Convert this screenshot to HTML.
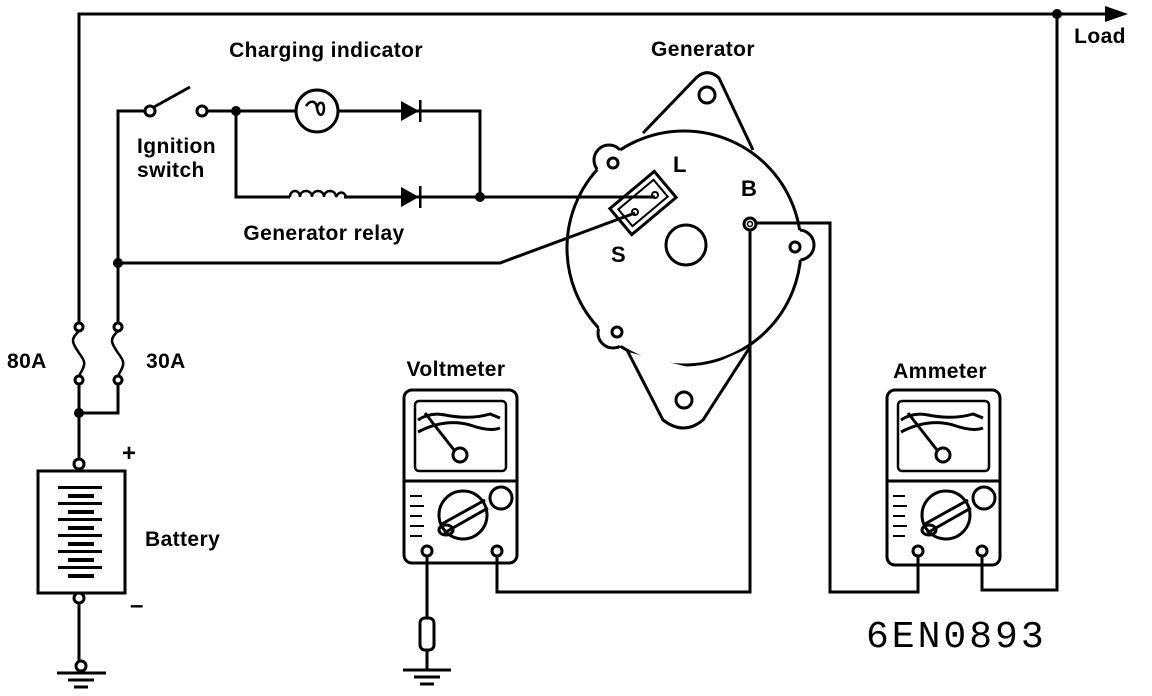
<!DOCTYPE html>
<html><head><meta charset="utf-8"><style>
html,body{margin:0;padding:0;background:#fff}
svg{display:block}
text{font-family:"Liberation Sans",Arial,sans-serif;font-weight:bold;fill:#000}
</style></head><body>
<svg width="1152" height="696" viewBox="0 0 1152 696" xmlns="http://www.w3.org/2000/svg">
<defs>
<mask id="mBody" maskUnits="userSpaceOnUse" x="0" y="0" width="1152" height="696">
<rect x="0" y="0" width="1152" height="696" fill="#fff"/>
<circle cx="609" cy="160" r="15" fill="#000"/>
<circle cx="613" cy="333" r="15" fill="#000"/>
<circle cx="799" cy="245" r="15" fill="#000"/>
<polygon points="628,352 684,430 749,348 700,370" fill="#000"/>
</mask>
<mask id="mEar" maskUnits="userSpaceOnUse" x="0" y="0" width="1152" height="696">
<rect x="0" y="0" width="1152" height="696" fill="#fff"/>
<circle cx="684" cy="248" r="117" fill="#000"/>
</mask>
</defs>
<g fill="none" stroke="#000" stroke-width="3">
<polyline points="79,327 79,14 1110,14"/>
<polyline points="118,327 118,111 145,111"/>
<circle cx="150" cy="111" r="5" fill="#fff"/>
<line x1="154" y1="107" x2="190" y2="87"/>
<circle cx="202" cy="111" r="5" fill="#fff"/>
<line x1="207" y1="111" x2="296" y2="111"/>
<circle cx="317" cy="111" r="21"/>
<path d="M306,106 c4,-6 10,-6 11,2 c1,9 7,9 7,0 c0,-7 -6,-7 -7,0" stroke-width="2.5"/>
<polyline points="338,111 480,111 480,197"/>
<polyline points="236,111 236,197 290,197"/>
<path d="M290,197 c0,-8 10,-8 10,0 c0,-8 12,-8 12,0 c0,-8 12,-8 12,0 c0,-8 12,-8 12,0 c3,-6 8,-6 10,0" stroke-width="2.5"/>
<line x1="344" y1="197" x2="655" y2="197"/>
<polyline points="118,263 500,263 635,213"/>
<circle cx="79" cy="327" r="4" fill="#fff"/><circle cx="79" cy="380" r="4" fill="#fff"/>
<path d="M79,331 c-8,8 -8,10 0,22 c8,10 6,12 0,23" stroke-width="2.5"/>
<circle cx="118" cy="327" r="4" fill="#fff"/><circle cx="118" cy="380" r="4" fill="#fff"/>
<path d="M118,331 c-8,8 -8,10 0,22 c8,10 6,12 0,23" stroke-width="2.5"/>
<polyline points="79,384 79,459"/>
<polyline points="118,384 118,413 79,413"/>
<circle cx="79" cy="464" r="5" fill="#fff"/>
<rect x="38" y="471" width="87" height="122"/>
<circle cx="79" cy="598" r="5" fill="#fff"/>
<line x1="79" y1="603" x2="79" y2="661"/>
<circle cx="81" cy="666" r="5" fill="#fff"/>
<line x1="57" y1="673" x2="106" y2="673"/>
<line x1="68" y1="680" x2="94" y2="680"/>
<line x1="74" y1="687" x2="88" y2="687"/>
<!-- generator -->
<circle cx="684" cy="248" r="117" mask="url(#mBody)"/>
<path d="M643,133 L697,77 Q708,68 719,78 L753,150"/>
<path d="M627,350 L663,420 Q684,436 703,420 L750,347"/>
<g mask="url(#mEar)">
<circle cx="609" cy="160" r="15"/>
<circle cx="613" cy="333" r="15"/>
<circle cx="799" cy="245" r="15"/>
</g>
<circle cx="613" cy="163" r="5"/>
<circle cx="617" cy="332" r="5"/>
<circle cx="795" cy="247" r="5"/>
<circle cx="707" cy="95" r="8"/>
<circle cx="684" cy="400" r="8"/>
<circle cx="686" cy="245" r="20"/>
<g transform="translate(643,203) rotate(-40)">
<rect x="-29" y="-17" width="58" height="34"/>
<rect x="-23" y="-11" width="46" height="22" stroke-width="2"/>
</g>
<circle cx="655" cy="195" r="3" stroke-width="2"/>
<circle cx="635" cy="212" r="3" stroke-width="2"/>
<circle cx="750" cy="224" r="6"/><circle cx="750" cy="224" r="2.5" stroke-width="1.5"/>
<polyline points="756,223 830,223 830,592 918,592 918,555"/>
<polyline points="750,230 750,592 497,592 497,555"/>
<polyline points="982,555 982,590 1057,590 1057,14"/>
<!-- voltmeter -->
<rect x="404" y="390" width="113" height="173" rx="8"/>
<rect x="415" y="401" width="91" height="70" rx="4" stroke-width="2.5"/>
<line x1="404" y1="481" x2="517" y2="481"/>
<path d="M418,420 Q430,412 445,415 Q470,420 490,414 L500,418"/><path d="M418,432 Q445,418 470,425 Q490,432 500,428"/>
<line x1="425" y1="413" x2="454" y2="450"/><circle cx="460" cy="455" r="7"/>
<circle cx="463" cy="515" r="24"/>
<line x1="440" y1="525" x2="485" y2="500"/><line x1="444" y1="533" x2="488" y2="508"/>
<ellipse cx="446" cy="530" rx="7" ry="5"/>
<circle cx="501" cy="498" r="11"/>
<path d="M410,496 h12 M410,506 h14 M410,516 h12 M410,526 h14 M410,536 h12" stroke-width="2"/>
<circle cx="427" cy="551" r="5"/><circle cx="497" cy="551" r="5"/>
<line x1="427" y1="556" x2="427" y2="618"/>
<rect x="420" y="618" width="14" height="32" rx="5"/>
<line x1="427" y1="650" x2="427" y2="670"/>
<line x1="403" y1="670" x2="451" y2="670"/>
<line x1="414" y1="677" x2="440" y2="677"/>
<line x1="420" y1="684" x2="434" y2="684"/>
<!-- ammeter -->
<rect x="887" y="390" width="113" height="175" rx="8"/>
<rect x="898" y="401" width="91" height="70" rx="4" stroke-width="2.5"/>
<line x1="887" y1="481" x2="1000" y2="481"/>
<path d="M901,420 Q913,412 928,415 Q953,420 973,414 L983,418"/><path d="M901,432 Q928,418 953,425 Q973,432 983,428"/>
<line x1="908" y1="413" x2="937" y2="450"/><circle cx="943" cy="455" r="7"/>
<circle cx="946" cy="515" r="24"/>
<line x1="923" y1="525" x2="968" y2="500"/><line x1="927" y1="533" x2="971" y2="508"/>
<ellipse cx="929" cy="530" rx="7" ry="5"/>
<circle cx="984" cy="498" r="11"/>
<path d="M893,496 h12 M893,506 h14 M893,516 h12 M893,526 h14 M893,536 h12" stroke-width="2"/>
<circle cx="918" cy="551" r="5"/><circle cx="982" cy="551" r="5"/>
</g>
<g fill="#000">
<circle cx="1057" cy="14" r="5"/>
<polygon points="1128,14 1105,6 1105,22"/>
<circle cx="236" cy="111" r="5"/>
<circle cx="480" cy="197" r="5"/>
<circle cx="118" cy="263" r="5"/>
<circle cx="79" cy="413" r="5"/>
<polygon points="401,101 401,121 419,111"/><rect x="419" y="100" width="2.5" height="22"/>
<polygon points="401,187 401,207 419,197"/><rect x="419" y="186" width="2.5" height="22"/>
<rect x="58" y="486" width="44" height="3"/><rect x="68" y="494" width="26" height="4"/>
<rect x="58" y="502" width="44" height="3"/><rect x="68" y="510" width="26" height="4"/>
<rect x="58" y="518" width="44" height="3"/><rect x="68" y="526" width="26" height="4"/>
<rect x="58" y="534" width="44" height="3"/><rect x="68" y="542" width="26" height="4"/>
<rect x="58" y="550" width="44" height="3"/><rect x="68" y="558" width="26" height="4"/>
<rect x="58" y="566" width="44" height="3"/><rect x="68" y="574" width="26" height="4"/>
</g>
<g font-size="21" style="letter-spacing:0.4px">
<text x="326" y="57" text-anchor="middle">Charging indicator</text>
<text x="703" y="56" text-anchor="middle">Generator</text>
<text x="1100" y="43" text-anchor="middle">Load</text>
<text x="137" y="153">Ignition</text>
<text x="137" y="177">switch</text>
<text x="324" y="240" text-anchor="middle">Generator relay</text>
<text x="456" y="376" text-anchor="middle">Voltmeter</text>
<text x="940" y="378" text-anchor="middle">Ammeter</text>
<text x="7" y="368">80A</text>
<text x="146" y="368">30A</text>
<text x="145" y="546">Battery</text>
<text x="673" y="172" font-size="22">L</text>
<text x="741" y="196" font-size="22">B</text>
<text x="611" y="262" font-size="22">S</text>
<text x="122" y="461" font-size="24">+</text>
<text x="130" y="613" font-size="24">–</text>
</g>
<text x="866" y="647" font-size="38" style="font-family:'Liberation Mono',monospace;font-weight:normal;letter-spacing:3px">6EN0893</text>
</svg>
</body></html>
